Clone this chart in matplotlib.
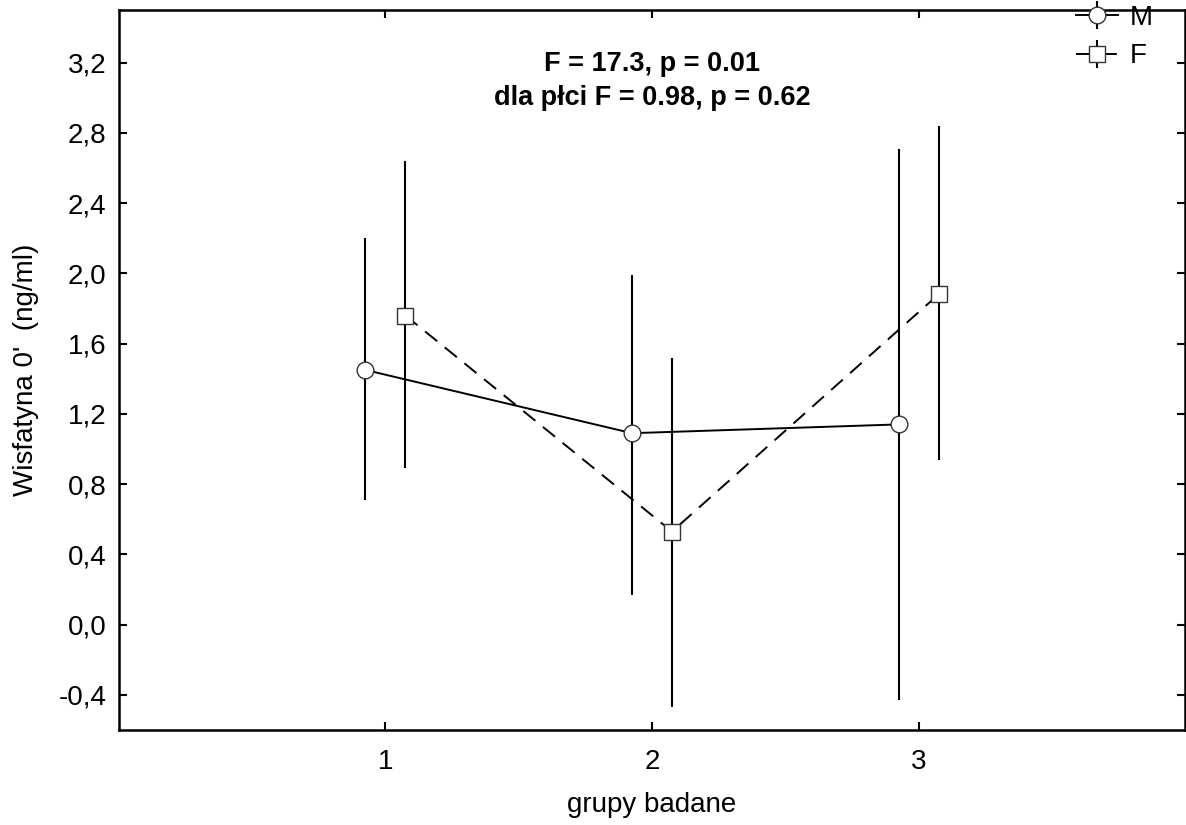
import matplotlib
matplotlib.use("Agg")
import matplotlib.pyplot as plt
import numpy as np

plt.rcParams['font.family'] = ['Liberation Sans', 'DejaVu Sans']

# data
groups = [1, 2, 3]
m_mean = [1.45, 1.09, 1.14]
m_low = [0.71, 0.17, -0.43]
m_high = [2.20, 1.99, 2.71]
f_mean = [1.76, 0.53, 1.88]
f_low = [0.89, -0.47, 0.94]
f_high = [2.64, 1.52, 2.84]
yticks = [-0.4, 0.0, 0.4, 0.8, 1.2, 1.6, 2.0, 2.4, 2.8, 3.2]

fig = plt.figure(figsize=(11.86, 8.25), dpi=100)
ax = fig.add_axes([0.1003, 0.1152, 0.8989, 0.8727])

off = 0.075
x = np.array(groups, dtype=float)

def draw(xs, mean, low, high, marker, ls, label):
    mean = np.array(mean)
    err = [mean - np.array(low), np.array(high) - mean]
    cont = ax.errorbar(xs, mean, yerr=err, fmt=marker, ls=ls, color='black', lw=1.4,
                       ecolor='black', elinewidth=1.5, capsize=0,
                       markersize=12, markerfacecolor='white', markeredgecolor='#333333',
                       markeredgewidth=1.0, label=label)
    if ls == '--':
        cont[0].set_dashes((8, 5))
    cont[0].set_zorder(3)
    return cont

cm = draw(x - off, m_mean, m_low, m_high, 'o', '-', 'M')
cf = draw(x + off, f_mean, f_low, f_high, 's', '--', 'F')

ax.set_xlim(0, 4)
ax.set_ylim(-0.6, 3.5)
ax.set_xticks(groups)
ax.set_xticklabels([str(g) for g in groups])
ax.set_yticks(yticks)
ax.set_yticklabels([f"{v:.1f}".replace('.', ',') for v in yticks])
ax.tick_params(direction='in', length=6, width=1.5, labelsize=20, top=True, right=True)
ax.tick_params(axis='x', pad=14)
ax.tick_params(axis='y', pad=9)
for s in ax.spines.values():
    s.set_linewidth(1.8)

ax.set_xlabel('grupy badane', fontsize=20, labelpad=12)
ax.set_ylabel("Wisfatyna 0'  (ng/ml)", fontsize=20, labelpad=14)

ax.text(0.5, 0.902, 'F = 17.3, p = 0.01\ndla płci F = 0.98, p = 0.62',
        transform=ax.transAxes, ha='center', va='center', fontsize=19.5,
        fontweight='bold', linespacing=1.4)

leg = fig.legend(handles=[cm, cf], labels=['M', 'F'], loc='upper left',
                 bbox_to_anchor=(1076 / 1186, 0.994), frameon=False, fontsize=20,
                 handlelength=1.5, handletextpad=0.45, labelspacing=0.45,
                 borderpad=0, borderaxespad=0)

fig.savefig('out.png', dpi=100)
